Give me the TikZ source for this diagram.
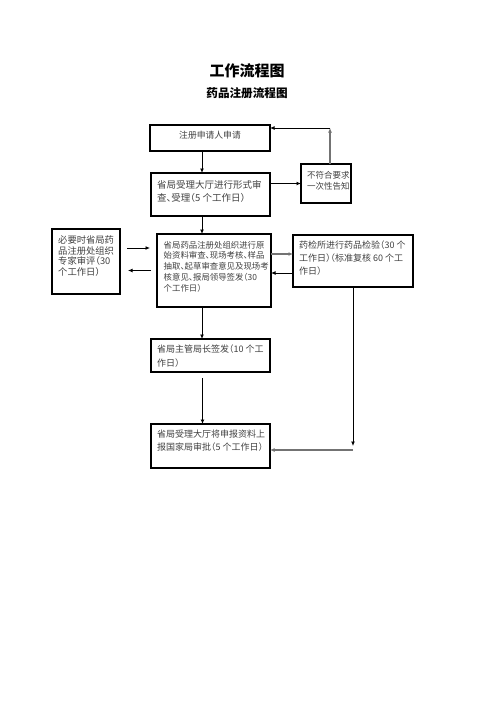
\documentclass[tikz,border=0pt]{standalone}
\usepackage{fontspec}
\setmainfont{Noto Sans CJK SC}[RawFeature=+halt]
\usetikzlibrary{arrows.meta}
\tikzset{
  box/.style={draw=black,line width=1.1pt,anchor=north west,inner sep=0pt,outer sep=0pt},
  txt/.style={anchor=north west,inner sep=0pt,align=left,text=black!75},
  arr/.style={draw=black,line width=1pt,-{Latex[length=4.5pt,width=4pt]}},
  garr/.style={draw=black!55,line width=1.4pt,-{Latex[length=4.5pt,width=4pt]}},
}
\newcommand{\fs}[2]{\fontsize{#1}{#2}\selectfont}
\begin{document}
\begin{tikzpicture}[x=1pt,y=-1pt]
\useasboundingbox (0,0) rectangle (496,702);
% titles
\node[inner sep=0pt,font=\fs{15}{18}\bfseries] (title) at (247,71) {工作流程图};
\node[inner sep=0pt,font=\fs{11.6}{14}\bfseries] (sub) at (247,93) {药品注册流程图};
% boxes
\node[box,minimum width=120pt,minimum height=26pt] (b1) at (150,125) {};
\node[box,minimum width=119pt,minimum height=43pt] (b2) at (151,173) {};
\node[box,minimum width=50pt,minimum height=39pt] (no) at (301,164) {};
\node[box,minimum width=68pt,minimum height=65pt] (lb) at (52,229) {};
\node[box,minimum width=114pt,minimum height=73pt] (b3) at (157,234) {};
\node[box,minimum width=120pt,minimum height=52pt] (dr) at (293,235) {};
\node[box,minimum width=119pt,minimum height=33pt] (b4) at (151,339) {};
\node[box,minimum width=119pt,minimum height=44pt] (b5) at (151,424) {};
% texts
\node[inner sep=0pt,text=black!75,font=\fs{8.8}{11}] (t1) at (210,135) {注册申请人申请};
\node[txt,font=\fs{9.5}{13}] (t2) at (157,180.2) {省局受理大厅进行形式审\\查、受理（5 个工作日）};
\node[txt,font=\fs{8.5}{11}] (tno) at (307,170.8) {不符合要求\\一次性告知};
\node[txt,font=\fs{9.3}{10.7}] (tlb) at (58,235.4) {必要时省局药\\品注册处组织\\专家审评（30\\个工作日）};
\node[txt,font=\fs{8.4}{10.75}] (t3) at (163.5,240.8) {省局药品注册处组织进行原\\始资料审查、现场考核、样品\\抽取、起草审查意见及现场考\\核意见、报局领导签发（30\\个工作日）};
\node[txt,font=\fs{9}{13}] (tdr) at (299,240.5) {药检所进行药品检验（30 个\\工作日）（标准复核 60 个工\\作日）};
\node[txt,font=\fs{9}{14}] (t4) at (157,344.5) {省局主管局长签发（10 个工\\作日）};
\node[txt,font=\fs{9}{13}] (t5) at (157,429.5) {省局受理大厅将申报资料上\\报国家局审批（5 个工作日）};
% connectors
\draw[arr] ([xshift=-8pt]b1.south) -- ([xshift=-8pt]b1.south |- b2.north);
\draw[arr] (b2.east |- no.west) -- (no.west);
\coordinate (in1) at ([yshift=10pt]b1.east);
\draw[garr] ([xshift=4pt]no.north) -- ([xshift=4pt]no.north |- in1) coordinate (corner);
\draw[arr] (corner) -- (in1);
\draw[arr] ([xshift=-8.5pt]b2.south) -- ([xshift=-8.5pt]b2.south |- b3.north);
\draw[arr,shorten <=7pt,shorten >=7pt] ([yshift=22.5pt]b3.west -| lb.east) -- ([yshift=22.5pt]b3.west);
\draw[arr,shorten <=6pt,shorten >=8pt] (b3.west) -- (b3.west -| lb.east);
\draw[garr] ([yshift=16.5pt]b3.east) -- ([yshift=16.5pt]b3.east -| dr.west);
\draw[arr] ([yshift=-2.5pt]b3.east -| dr.west) -- ([yshift=-2.5pt]b3.east);
\draw[arr] ([xshift=-12pt]b3.south) -- ([xshift=-12pt]b3.south |- b4.north);
\draw[arr,shorten <=6pt] ([xshift=-8pt]b4.south) -- ([xshift=-8pt]b4.south |- b5.north);
\draw[arr] (dr.south) -- (dr.south |- b5.east);
\draw[garr] ([yshift=-4pt]b5.east -| dr.south) -- ([yshift=-4pt]b5.east);
\end{tikzpicture}
\end{document}
